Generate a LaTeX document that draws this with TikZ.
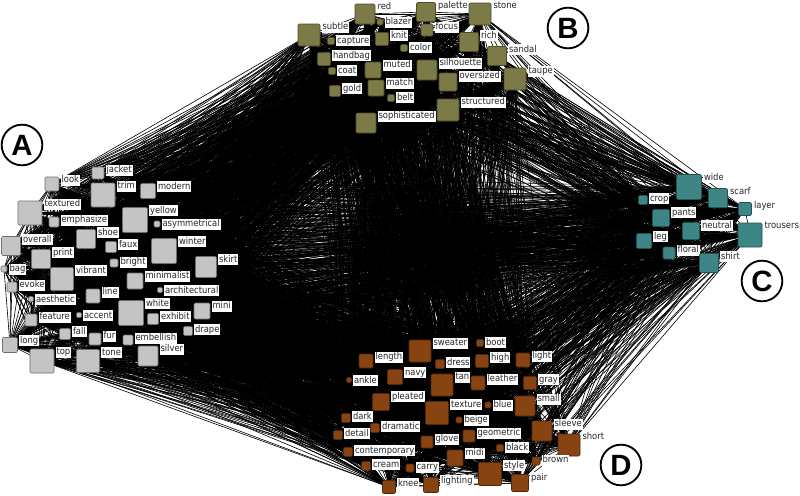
\documentclass[tikz,border=0pt]{standalone}
\usepackage{fontspec}
\usepackage{tikz}
\usetikzlibrary{positioning}
\newfontfamily\labfont{DejaVu Sans Condensed}
\newfontfamily\tagfont{Liberation Sans}
\pgfdeclarelayer{background}
\pgfsetlayers{background,main}

\definecolor{fillA}{RGB}{196,196,196}
\definecolor{lineA}{RGB}{110,110,110}
\definecolor{fillB}{RGB}{124,122,70}
\definecolor{lineB}{RGB}{78,76,40}
\definecolor{fillC}{RGB}{62,134,134}
\definecolor{lineC}{RGB}{34,84,84}
\definecolor{fillD}{RGB}{135,68,18}
\definecolor{lineD}{RGB}{80,40,10}

\tikzset{
  sq/.style={rectangle, rounded corners=1pt, inner sep=0pt, line width=0.4pt},
  sqA/.style={sq, draw=lineA, fill=fillA},
  sqB/.style={sq, draw=lineB, fill=fillB},
  sqC/.style={sq, draw=lineC, fill=fillC},
  sqD/.style={sq, draw=lineD, fill=fillD},
  lab/.style={fill=white, inner sep=0.7pt, text=black!85, anchor=north west,
    xshift=0.8pt, yshift=1.8pt, text height=5.3pt, text depth=1.5pt,
    font=\labfont\fontsize{7}{8}\selectfont},
  tag/.style={circle, draw, line width=1.4pt, minimum size=30.5pt, inner sep=0pt,
    font=\tagfont\bfseries\fontsize{22}{22}\selectfont},
  edge/.style={line width=0.45pt, black}
}

\def\allnodes{red,palette,stone,subtle,blazer,capture,knit,focus,rich,color,handbag,sandal,coat,muted,silhouette,oversized,taupe,gold,match,belt,structured,sophisticated,%
jacket,look,trim,modern,textured,emphasize,yellow,asymmetrical,shoe,overall,faux,winter,print,skirt,bag,bright,vibrant,minimalist,evoke,architectural,line,aesthetic,white,mini,feature,accent,exhibit,drape,fall,fur,embellish,long,top,tone,silver,%
wide,crop,scarf,layer,pants,neutral,trousers,leg,floral,shirt,%
sweater,boot,length,dress,high,light,ankle,navy,tan,leather,gray,pleated,texture,blue,small,dark,beige,dramatic,sleeve,detail,glove,geometric,short,contemporary,black,midi,brown,cream,carry,style,knee,lighting,pair}

\begin{document}
\begin{tikzpicture}[x=0.75pt, y=-0.75pt]
  \useasboundingbox (0,0) rectangle (800,496);

  % cluster B
  \foreach \n/\x/\y/\s in {red/365/14/20, palette/426/12/19, stone/480/14/22, subtle/309/35/22,
      blazer/380/22/6, capture/331/41/7, knit/382/39/13, focus/427/30/12, rich/469/42/19,
      color/404/48/7, handbag/324/59/13, sandal/497/56/19, coat/332/71/7, muted/373/70/16,
      silhouette/427/70/20, oversized/448/82/18, taupe/515/79/22, gold/335/91/11,
      match/376/88/16, belt/391/98/7, structured/448/110/22, sophisticated/366/123/20}
    \node[sqB, minimum size=\s*0.75pt, label={[lab]north east:\n}] (\n) at (\x,\y) {};

  % cluster A
  \foreach \n/\x/\y/\s in {jacket/98/173/12, look/52/184/14, trim/103/195/24, modern/148/191/15,
      textured/30/213/24, emphasize/54/222/10, yellow/135/220/25, asymmetrical/157/224/6,
      shoe/86/239/19, overall/11/246/19, faux/111/247/11, winter/164/251/25, print/41/259/19,
      skirt/206/267/21, bag/4/269/6, bright/114/263/8, vibrant/62/279/23, minimalist/135/281/16,
      evoke/12/287/10, architectural/160/290/5, line/93/296/14, aesthetic/31/299/5,
      white/131/313/25, mini/202/311/16, feature/31/320/12, accent/79/315/5, exhibit/153/319/11,
      drape/188/331/9, fall/65/334/11, fur/95/339/12, embellish/128/340/10, long/10/345/15,
      top/42/361/24, tone/88/361/23, silver/148/356/20}
    \node[sqA, minimum size=\s*0.75pt, label={[lab]north east:\n}] (\n) at (\x,\y) {};

  % cluster C
  \foreach \n/\x/\y/\s in {wide/689/187/25, crop/643/200/9, scarf/718/198/19, layer/745/209/13,
      pants/661/218/17, neutral/691/231/17, trousers/750/235/24, leg/644/241/15,
      floral/669/253/12, shirt/709/263/19}
    \node[sqC, minimum size=\s*0.75pt, label={[lab]north east:\n}] (\n) at (\x,\y) {};

  % cluster D
  \foreach \n/\x/\y/\s in {sweater/420/351/22, boot/480/343/7, length/366/361/14, dress/440/364/9,
      high/482/361/13, light/523/360/14, ankle/349/380/5, navy/395/377/15, tan/442/385/22,
      leather/478/383/14, gray/530/383/13, pleated/381/402/17, texture/437/413/23,
      blue/488/405/6, small/525/406/20, dark/346/418/9, beige/459/420/6, dramatic/375/428/9,
      sleeve/542/431/20, detail/338/435/9, glove/427/442/12, geometric/469/436/12,
      short/569/445/22, contemporary/348/452/9, black/500/448/7, midi/455/458/16,
      brown/536/461/8, cream/366/466/9, carry/410/468/8, style/490/474/23, knee/389/487/13,
      lighting/431/485/15, pair/520/483/17}
    \node[sqD, minimum size=\s*0.75pt, label={[lab]north east:\n}] (\n) at (\x,\y) {};

  % group tags
  \node[tag] (tagA) at (22,145) {A};
  \node[tag] (tagB) at (568,28) {B};
  \node[tag] (tagC) at (762,281) {C};
  \node[tag] (tagD) at (621,465) {D};

  % every pair of words is linked
  \begin{pgfonlayer}{background}
    \foreach \a [count=\i] in \allnodes {
      \foreach \b [count=\j] in \allnodes {
        \ifnum\j>\i \draw[edge] (\a.center) -- (\b.center); \fi
      }
    }
  \end{pgfonlayer}
\end{tikzpicture}
\end{document}
